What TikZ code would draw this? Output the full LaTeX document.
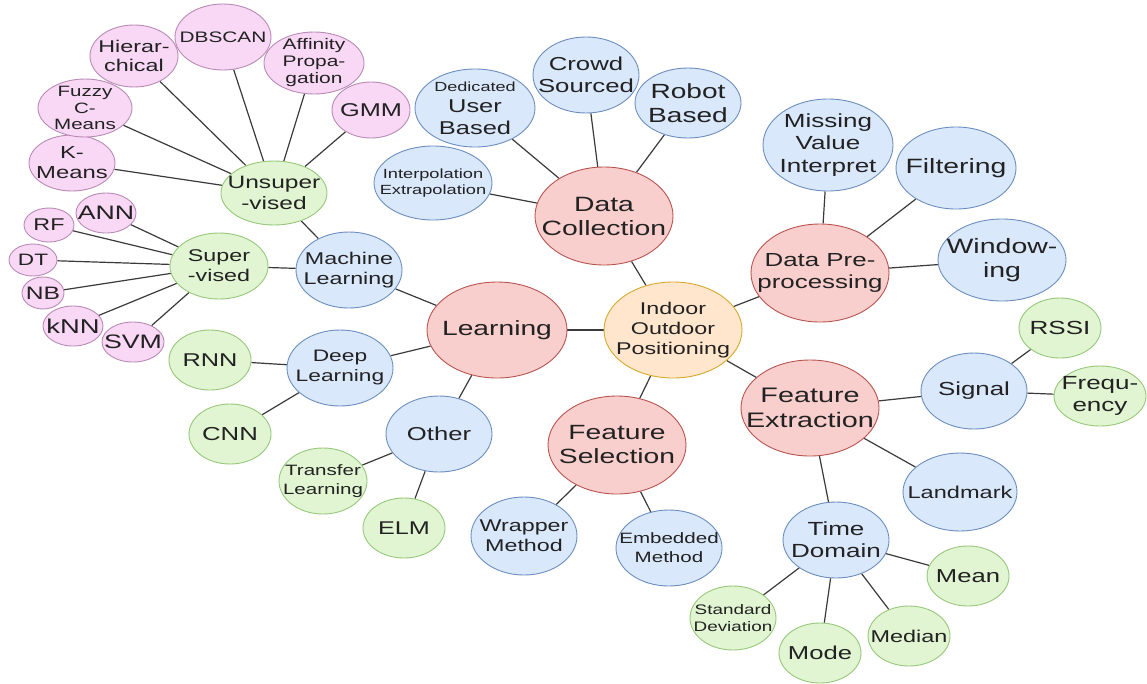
\documentclass[tikz,border=0pt]{standalone}
\usepackage{fontspec}
\setmainfont{Liberation Sans}[FakeStretch=1.37]
\usetikzlibrary{shapes.geometric,backgrounds}
\definecolor{redF}{HTML}{F8CFCC}\definecolor{redD}{HTML}{B85450}
\definecolor{bluF}{HTML}{DAE8FC}\definecolor{bluD}{HTML}{6C8EBF}
\definecolor{grnF}{HTML}{E1F5D2}\definecolor{grnD}{HTML}{97C87B}
\definecolor{pnkF}{HTML}{F8D8F5}\definecolor{pnkD}{HTML}{B98AB5}
\definecolor{orgF}{HTML}{FFE6CC}\definecolor{orgD}{HTML}{D6A92A}
\definecolor{txt}{HTML}{222222}\definecolor{edg}{HTML}{3A3A3A}
\newcommand\fz[2]{\fontsize{#1}{#2}\selectfont}
\newcommand\bub[8]{\node[#1, minimum width=#5pt, minimum height=#6pt,
  label={[font=#7, align=center, text=txt, inner sep=0pt]center:{#8}}] (#2) at (#3,#4) {};}
\tikzset{
  bb/.style={ellipse, inner sep=0pt, line width=0.9pt},
  rd/.style={bb, fill=redF, draw=redD},
  bl/.style={bb, fill=bluF, draw=bluD},
  gr/.style={bb, fill=grnF, draw=grnD},
  pk/.style={bb, fill=pnkF, draw=pnkD},
  og/.style={bb, fill=orgF, draw=orgD},
  link/.style={draw=edg, line width=1.2pt}
}
\begin{document}
\begin{tikzpicture}[x=1pt,y=-1pt]
\useasboundingbox (0,0) rectangle (1147,683);
% center and main branches
\bub{og}{pos}{673}{330}{138}{96}{\fz{17}{20}}{Indoor\\Outdoor\\Positioning}
\bub{rd}{learn}{497}{330}{140}{96}{\fz{20.6}{24}}{Learning}
\bub{rd}{fsel}{617}{445}{138}{98}{\fz{20.6}{24}}{Feature\\Selection}
\bub{rd}{dcol}{604}{216}{138}{98}{\fz{20.7}{24}}{Data\\Collection}
\bub{rd}{dpre}{820}{273}{138}{98}{\fz{18.9}{22}}{Data Pre-\\processing}
\bub{rd}{fext}{810}{408}{138}{96}{\fz{21}{24.5}}{Feature\\Extraction}
% feature selection
\bub{bl}{wrap}{524}{536}{106}{78}{\fz{17}{20}}{Wrapper\\Method}
\bub{bl}{emb}{669}{548}{106}{76}{\fz{15}{19}}{Embedded\\Method}
% data collection
\bub{bl}{ded}{475}{108}{120}{78}{\fz{18.6}{21.5}}{{\fz{13.2}{15}Dedicated}\\User\\Based}
\bub{bl}{crowd}{586}{75}{106}{76}{\fz{18.8}{22}}{Crowd\\Sourced}
\bub{bl}{robot}{688}{103}{106}{70}{\fz{20.5}{23.5}}{Robot\\Based}
\bub{bl}{interp}{433}{183}{118}{74}{\fz{13.3}{16}}{Interpolation\\Extrapolation}
% data preprocessing
\bub{bl}{miss}{828}{145}{130}{92}{\fz{19}{22.5}}{Missing\\Value\\Interpret}
\bub{bl}{filt}{956}{168}{120}{82}{\fz{20.7}{24}}{Filtering}
\bub{bl}{wind}{1002}{260}{128}{82}{\fz{20.8}{24}}{Window-\\ing}
% feature extraction
\bub{bl}{sig}{974}{391}{106}{76}{\fz{18.9}{22}}{Signal}
\bub{gr}{rssi}{1060}{328}{82}{60}{\fz{19}{22}}{RSSI}
\bub{gr}{freq}{1100}{396}{92}{60}{\fz{19}{22}}{Frequ-\\ency}
\bub{bl}{land}{960}{492}{114}{78}{\fz{17.2}{20}}{Landmark}
\bub{bl}{time}{836}{540}{106}{76}{\fz{19}{22}}{Time\\Domain}
\bub{gr}{mean}{968}{576}{82}{60}{\fz{18.7}{22}}{Mean}
\bub{gr}{median}{909}{636}{82}{60}{\fz{17.1}{20}}{Median}
\bub{gr}{mode}{820}{653}{82}{60}{\fz{18.7}{22}}{Mode}
\bub{gr}{std}{733}{618}{86}{64}{\fz{13.8}{16.5}}{Standard\\Deviation}
% learning
\bub{bl}{ml}{349}{270}{106}{76}{\fz{17}{20}}{Machine\\Learning}
\bub{gr}{sup}{219}{266}{98}{66}{\fz{17}{20}}{Super\\-vised}
\bub{gr}{unsup}{274}{193}{106}{64}{\fz{17.9}{21}}{Unsuper\\-vised}
\bub{pk}{kmeans}{72}{163}{86}{56}{\fz{17.4}{20}}{K-\\Means}
\bub{pk}{fuzzy}{85}{108}{94}{58}{\fz{15}{16.5}}{Fuzzy\\C-\\Means}
\bub{pk}{hier}{134}{56}{88}{62}{\fz{17}{19.5}}{Hierar-\\chical}
\bub{pk}{dbscan}{223}{37}{96}{66}{\fz{15.2}{18}}{DBSCAN}
\bub{pk}{aff}{314}{63}{100}{62}{\fz{15.3}{17}}{Affinity\\Propa-\\gation}
\bub{pk}{gmm}{371}{110}{78}{56}{\fz{18.5}{22}}{GMM}
\bub{pk}{ann}{106}{213}{60}{40}{\fz{19.5}{22}}{ANN}
\bub{pk}{rf}{49}{225}{50}{34}{\fz{17}{20}}{RF}
\bub{pk}{dt}{33}{260}{48}{32}{\fz{16.5}{20}}{DT}
\bub{pk}{nb}{43}{293}{42}{32}{\fz{18}{20}}{NB}
\bub{pk}{knn}{73}{326}{60}{40}{\fz{20}{22}}{kNN}
\bub{pk}{svm}{133}{342}{62}{40}{\fz{19.5}{22}}{SVM}
\bub{bl}{dl}{340}{368}{106}{76}{\fz{16.6}{20}}{Deep\\Learning}
\bub{gr}{rnn}{210}{360}{82}{60}{\fz{18.5}{22}}{RNN}
\bub{gr}{cnn}{230}{434}{82}{60}{\fz{18.8}{22}}{CNN}
\bub{bl}{other}{439}{434}{106}{76}{\fz{18.7}{22}}{Other}
\bub{gr}{tl}{323}{481}{88}{66}{\fz{15}{18.5}}{Transfer\\Learning}
\bub{gr}{elm}{404}{528}{82}{60}{\fz{18.4}{22}}{ELM}
\begin{pgfonlayer}{background}
\foreach \a/\b in {pos/learn,pos/dcol,pos/dpre,pos/fext,pos/fsel,
  learn/ml,learn/dl,learn/other,ml/sup,ml/unsup,
  sup/ann,sup/rf,sup/dt,sup/nb,sup/knn,sup/svm,
  unsup/kmeans,unsup/fuzzy,unsup/hier,unsup/dbscan,unsup/aff,unsup/gmm,
  dl/rnn,dl/cnn,other/tl,other/elm,fsel/wrap,fsel/emb,
  dcol/interp,dcol/ded,dcol/crowd,dcol/robot,
  dpre/miss,dpre/filt,dpre/wind,fext/sig,fext/land,fext/time,
  sig/rssi,sig/freq,time/mean,time/median,time/mode,time/std}
  \draw[link] (\a) -- (\b);
\end{pgfonlayer}
\end{tikzpicture}
\end{document}
